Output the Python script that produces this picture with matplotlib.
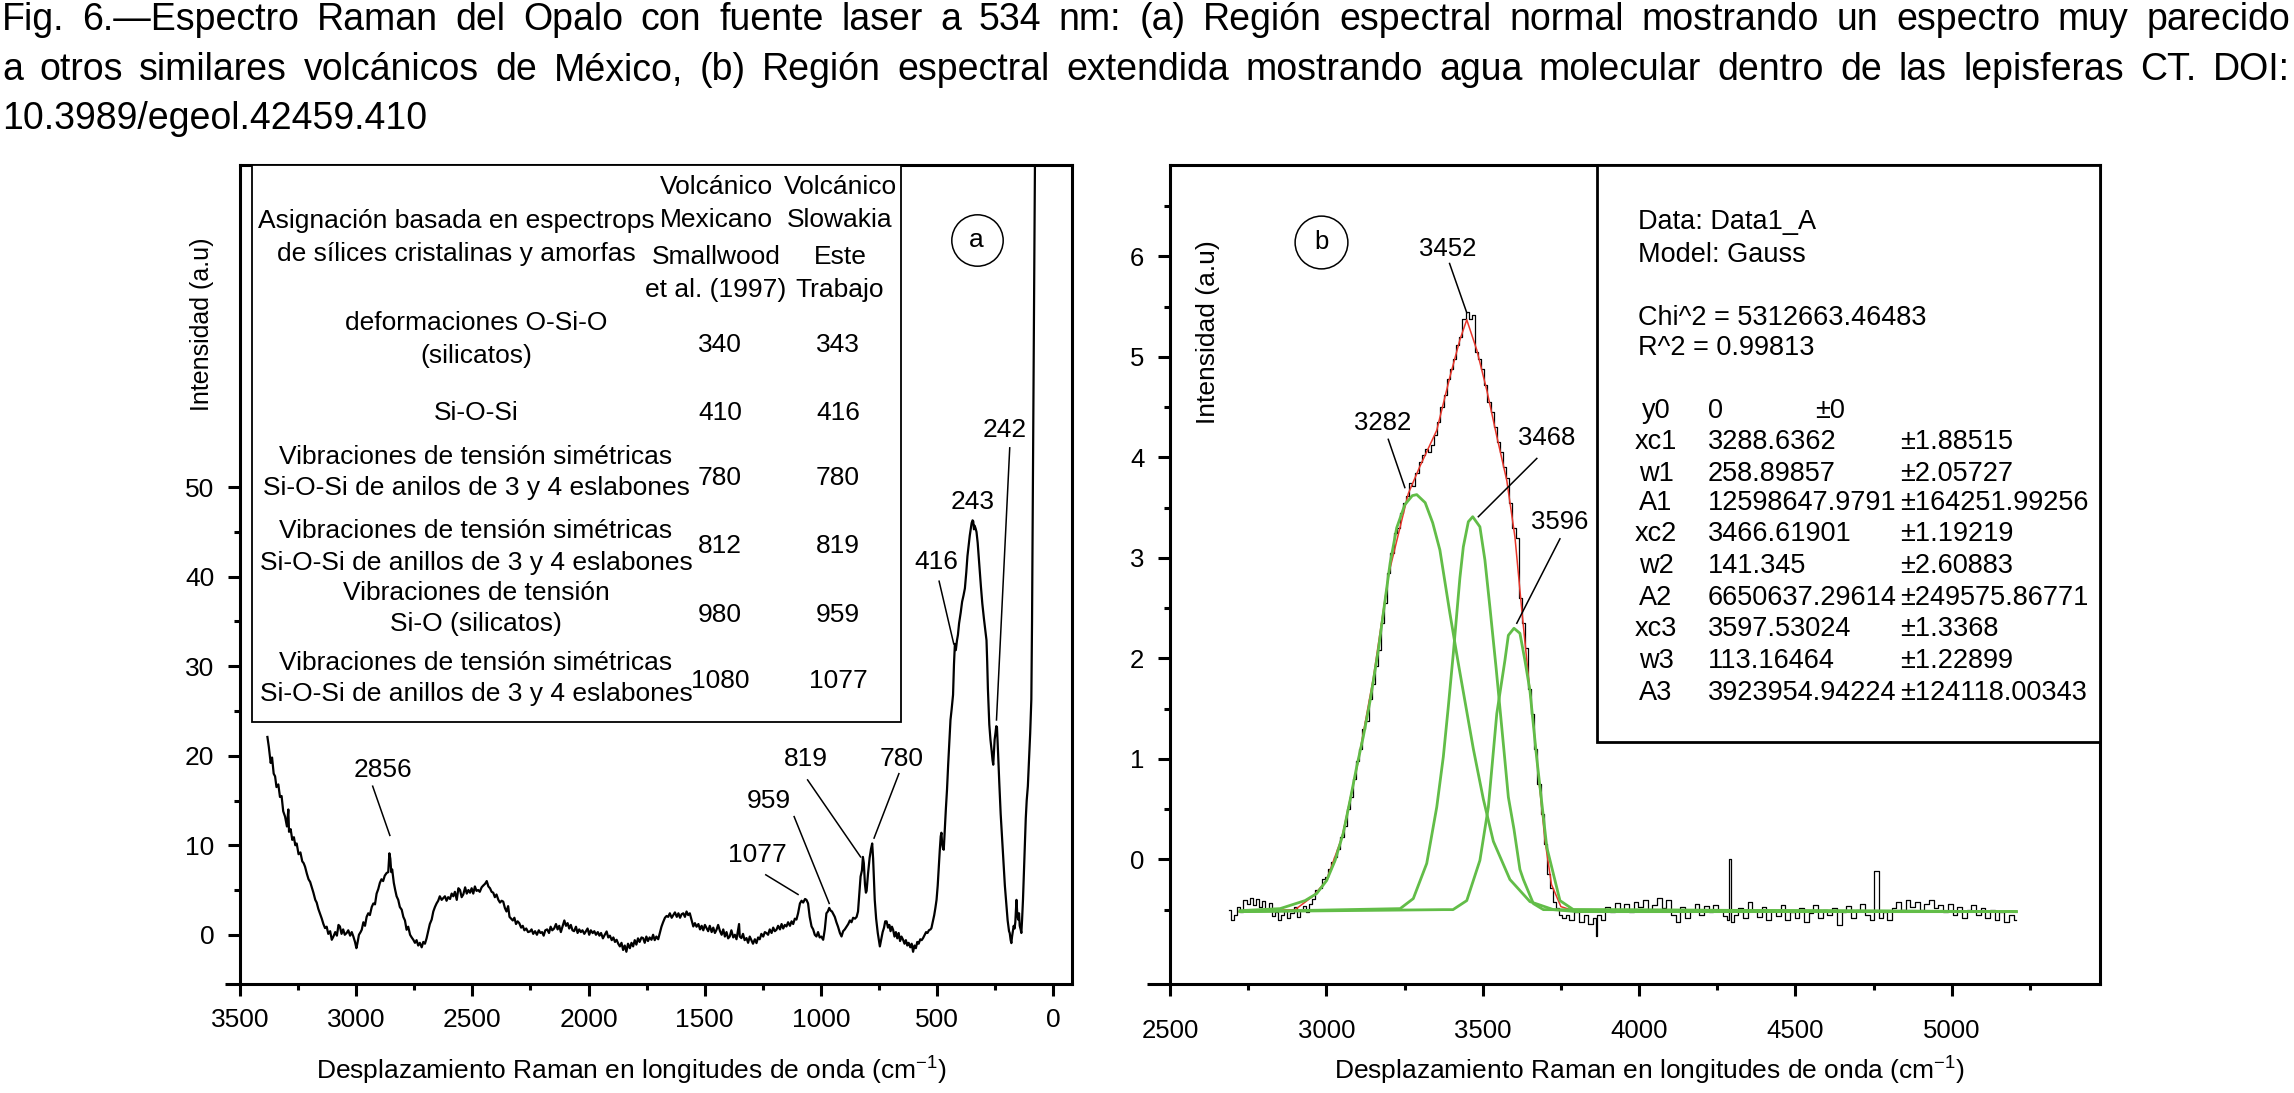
import matplotlib
matplotlib.use('Agg')
import matplotlib.pyplot as plt
from matplotlib.patches import Rectangle
from matplotlib.ticker import FixedLocator

plt.rcParams['font.family'] = ['Liberation Sans', 'DejaVu Sans']
plt.rcParams['mathtext.fontset'] = 'custom'
plt.rcParams['mathtext.rm'] = 'Liberation Sans'
plt.rcParams['mathtext.it'] = 'Liberation Sans:italic'

# ---------------- data: panel (a), normal spectral region ----------------
raman_a_cm = [
    3382, 3376, 3368, 3362, 3355, 3349, 3343, 3335, 3328, 3321, 3314, 3306, 3298, 3292, 3289, 3282,
    3275, 3268, 3262, 3256, 3248, 3240, 3232, 3226, 3220, 3212, 3205, 3198, 3190, 3184, 3176, 3170,
    3163, 3156, 3148, 3141, 3134, 3127, 3120, 3112, 3105, 3098, 3090, 3083, 3076, 3070, 3063, 3056,
    3049, 3041, 3034, 3026, 3019, 3012, 3005, 2999, 2995, 2988, 2981, 2976, 2969, 2962, 2955, 2948,
    2941, 2933, 2926, 2919, 2912, 2905, 2898, 2891, 2884, 2877, 2869, 2862, 2857, 2853, 2849, 2845,
    2838, 2832, 2826, 2819, 2812, 2804, 2797, 2790, 2783, 2776, 2768, 2761, 2754, 2747, 2740, 2733,
    2726, 2718, 2711, 2704, 2697, 2690, 2683, 2675, 2668, 2661, 2654, 2647, 2640, 2632, 2625, 2618,
    2611, 2604, 2596, 2589, 2582, 2575, 2567, 2560, 2553, 2546, 2539, 2531, 2524, 2517, 2510, 2503,
    2496, 2489, 2482, 2475, 2468, 2460, 2453, 2445, 2438, 2431, 2424, 2417, 2410, 2403, 2396, 2388,
    2381, 2374, 2367, 2360, 2353, 2346, 2340, 2333, 2326, 2319, 2312, 2305, 2298, 2290, 2283, 2276,
    2268, 2260, 2252, 2245, 2238, 2230, 2222, 2214, 2207, 2200, 2193, 2186, 2178, 2170, 2163, 2156,
    2148, 2140, 2133, 2126, 2119, 2112, 2104, 2097, 2090, 2083, 2076, 2069, 2062, 2054, 2047, 2040,
    2033, 2026, 2018, 2011, 2004, 1997, 1990, 1982, 1975, 1968, 1960, 1953, 1946, 1938, 1930, 1922,
    1915, 1908, 1900, 1893, 1886, 1879, 1872, 1865, 1858, 1851, 1844, 1837, 1830, 1822, 1815, 1808,
    1801, 1794, 1787, 1780, 1772, 1765, 1758, 1751, 1744, 1737, 1729, 1722, 1715, 1708, 1700, 1693,
    1686, 1679, 1671, 1664, 1657, 1650, 1642, 1635, 1628, 1620, 1613, 1606, 1599, 1592, 1585, 1578,
    1571, 1564, 1557, 1549, 1542, 1535, 1527, 1520, 1513, 1506, 1499, 1492, 1485, 1478, 1470, 1463,
    1456, 1449, 1442, 1434, 1427, 1420, 1413, 1406, 1399, 1392, 1385, 1377, 1370, 1363, 1356, 1352,
    1349, 1342, 1335, 1328, 1320, 1313, 1306, 1299, 1292, 1284, 1277, 1270, 1263, 1256, 1248, 1241,
    1234, 1227, 1220, 1212, 1205, 1198, 1191, 1184, 1176, 1169, 1162, 1155, 1148, 1141, 1133, 1126,
    1119, 1112, 1105, 1098, 1090, 1083, 1076, 1068, 1062, 1055, 1048, 1040, 1033, 1026, 1019, 1012,
    1005, 998, 990, 983, 976, 970, 964, 958, 952, 946, 940, 933, 926, 918, 911, 904,
    897, 889, 882, 875, 868, 861, 853, 846, 840, 834, 829, 823, 819, 815, 810, 806,
    803, 797, 790, 784, 779, 775, 771, 768, 762, 755, 750, 746, 740, 734, 728, 723,
    717, 711, 705, 700, 694, 689, 683, 677, 671, 665, 659, 653, 646, 640, 634, 628,
    622, 615, 609, 603, 597, 591, 585, 579, 572, 566, 560, 553, 547, 541, 535, 528,
    524, 518, 512, 507, 502, 497, 492, 488, 484, 481, 478, 474, 471, 466, 462, 457,
    452, 447, 442, 437, 431, 427, 423, 419, 414, 410, 405, 398, 392, 386, 380, 374,
    369, 364, 359, 355, 351, 347, 344, 341, 338, 334, 330, 325, 320, 316, 311, 305,
    298, 292, 287, 284, 281, 275, 270, 265, 261, 258, 255, 252, 248, 245, 242, 240,
    237, 232, 226, 220, 214, 208, 202, 196, 190, 187, 183, 180, 177, 173, 170, 166,
    163, 160, 158, 155, 151, 147, 144, 140, 137, 134, 130, 126, 122, 118, 114, 109,
    104, 99, 94, 91, 88, 85, 82, 79, 76,
]
raman_a_int = [
    22.1, 21.0, 19.2, 19.8, 18.0, 17.7, 16.5, 16.8, 15.4, 15.5, 13.8, 13.2, 12.1, 14.0, 11.5, 11.8,
    10.6, 10.9, 10.0, 10.2, 9.0, 9.2, 8.2, 8.0, 7.6, 6.8, 6.2, 5.9, 5.2, 4.7, 3.9, 3.6,
    2.9, 2.4, 1.8, 1.2, 0.75, 0.9, 0.1, 0.4, -0.56, -0.2, 0.3, -0.1, 1.1, 0.93, 0.1, 0.6,
    0.0, 0.2, 0.5, -0.1, 0.3, -0.2, -0.8, -1.5, -1.0, 0.0, 0.3, 0.56, 1.4, 1.0, 2.0, 2.4,
    2.2, 3.1, 3.5, 3.4, 4.6, 5.1, 5.8, 6.2, 6.0, 6.6, 6.9, 7.0, 9.1, 8.5, 7.0, 7.3,
    5.8, 5.0, 4.3, 3.9, 3.1, 2.8, 2.0, 1.6, 0.56, 0.9, 0.0, -0.3, -0.56, -0.9, -0.6, -1.2,
    -0.9, -1.4, -0.8, -1.0, -0.4, 0.4, 1.2, 1.7, 2.6, 3.1, 3.5, 3.8, 4.3, 3.9, 4.1, 4.3,
    3.8, 4.2, 4.0, 4.6, 4.3, 4.8, 3.9, 5.2, 5.0, 4.2, 4.5, 5.3, 4.6, 5.0, 4.7, 5.2,
    4.6, 5.4, 4.9, 5.0, 4.8, 5.3, 5.5, 5.7, 6.0, 5.4, 5.2, 4.8, 4.7, 4.2, 4.5, 3.9,
    3.6, 3.8, 3.7, 3.0, 2.6, 3.2, 2.0, 1.8, 1.6, 1.9, 1.2, 1.5, 1.3, 0.8, 1.0, 0.5,
    0.7, 0.3, 0.37, 0.6, 0.1, 0.4, 0.0, 0.5, 0.2, 0.3, -0.1, 0.5, 0.6, 0.2, 0.9, 0.5,
    0.7, 1.2, 0.6, 1.0, 0.3, 0.9, 1.6, 1.0, 1.3, 0.7, 1.1, 0.5, 0.4, 0.9, 0.2, 0.6,
    0.3, 0.5, 0.1, 0.4, 0.7, 0.0, 0.5, 0.19, 0.4, 0.0, 0.3, -0.1, 0.2, -0.4, 0.0, 0.37,
    -0.3, -0.1, -0.6, -0.3, -0.8, -0.56, -1.0, -1.3, -0.9, -1.7, -1.2, -1.9, -1.0, -1.5, -0.9, -1.3,
    -0.6, -1.1, -0.4, -0.8, -0.3, -0.37, -0.9, -0.2, -0.7, -0.3, -0.56, 0.0, -0.6, -0.2, -0.5, 0.19,
    0.9, 1.4, 1.9, 2.1, 2.0, 2.4, 1.9, 2.2, 2.5, 2.0, 2.4, 1.9, 2.3, 2.4, 2.0, 2.6,
    2.2, 2.4, 1.7, 0.93, 1.3, 0.9, 1.2, 0.6, 1.0, 0.5, 1.1, 0.75, 0.4, 1.0, 0.3, 0.8,
    0.2, 0.56, 1.1, 0.4, 0.0, 0.6, -0.2, 0.3, -0.4, -0.19, 0.5, -0.3, 0.0, -0.5, 0.56, 1.2,
    -0.2, -0.37, 0.1, -0.6, -0.37, -0.9, -0.2, -0.6, -1.0, -0.5, -0.93, -0.3, -0.5, 0.1, -0.2, 0.3,
    0.19, 0.0, 0.6, 0.2, 0.8, 0.4, 0.56, 1.0, 0.6, 1.2, 0.7, 1.1, 0.93, 1.4, 1.0, 1.5,
    1.2, 1.8, 1.7, 2.4, 3.5, 3.8, 3.6, 4.0, 3.9, 3.5, 2.0, 0.93, 0.6, 0.0, -0.19, 0.3,
    -0.3, -0.2, -0.56, 0.6, 2.4, 2.6, 3.0, 2.7, 2.6, 2.3, 2.0, 1.4, 0.9, 0.2, -0.19, 0.4,
    0.6, 0.93, 1.2, 1.6, 1.4, 1.9, 1.8, 2.0, 2.6, 4.8, 6.5, 7.2, 8.7, 8.0, 5.6, 4.7,
    4.9, 6.8, 8.6, 9.6, 10.2, 8.5, 6.0, 3.9, 1.8, 0.2, -0.6, -1.3, -0.5, 0.3, 0.8, 1.5,
    1.5, 0.8, 1.1, 0.4, 0.9, 0.56, -0.2, 0.3, -0.4, 0.2, -0.7, -0.2, -0.56, -1.0, -0.6, -1.2,
    -0.9, -1.4, -1.0, -1.9, -1.2, -1.5, -0.8, -1.0, -0.5, -0.6, -0.37, 0.0, 0.3, 0.2, 0.5, 0.6,
    0.75, 1.5, 2.2, 3.0, 3.9, 5.5, 7.8, 9.5, 11.0, 11.4, 10.2, 9.6, 9.5, 12.0, 14.0, 16.2,
    19.0, 21.5, 24.0, 25.2, 26.8, 30.2, 32.5, 31.8, 32.9, 33.5, 34.8, 36.0, 37.2, 37.9, 38.7, 40.5,
    42.3, 43.5, 44.6, 45.3, 46.0, 46.3, 46.2, 45.3, 45.7, 45.4, 45.0, 43.8, 42.0, 40.7, 38.9, 37.0,
    35.3, 34.0, 32.9, 30.5, 27.5, 23.5, 21.8, 20.6, 19.5, 19.0, 20.5, 21.8, 22.6, 23.3, 23.2, 22.1,
    20.2, 17.0, 13.5, 10.8, 8.2, 5.5, 3.5, 1.6, 0.4, 0.19, -0.6, -0.93, -0.2, 0.5, 1.0, 0.7,
    1.4, 2.8, 3.9, 2.5, 1.7, 2.4, 1.0, 0.6, 0.2, 1.6, 3.9, 7.0, 10.2, 13.0, 15.0, 16.6,
    19.5, 22.5, 26.3, 35.0, 48.0, 60.0, 72.0, 84.0, 96.0,
]

# peak labels of panel (a): text position and leader line (start, end) in data units
labels_a = ['2856', '1077', '959', '819', '780', '416', '243', '242']
labels_a_xy = [(2886, 18.4), (1274, 8.9), (1222, 14.9), (1066, 19.6), (653, 19.6),
               (502, 41.7), (345, 48.3), (208, 56.4)]
leaders_a = [((2929, 16.6), (2855, 11.1)), ((1237, 6.7), (1098, 4.5)),
             ((1115, 13.2), (964, 3.5)), ((1057, 17.3), (829, 8.7)),
             ((664, 18.0), (771, 10.8)), ((491, 39.5), (428, 32.5)),
             None, ((187, 54.4), (244, 24.0))]

# assignment table of panel (a)
table_head_left = ['Asignación basada en espectrops', 'de sílices cristalinas y amorfas']
table_head_mex = ['Volcánico', 'Mexicano', 'Smallwood', 'et al. (1997)']
table_head_slo = ['Volcánico', 'Slowakia', 'Este', 'Trabajo']
table_rows = [
    ['deformaciones O-Si-O', '(silicatos)'],
    ['Si-O-Si'],
    ['Vibraciones de tensión simétricas', 'Si-O-Si de anilos de 3 y 4 eslabones'],
    ['Vibraciones de tensión simétricas', 'Si-O-Si de anillos de 3 y 4 eslabones'],
    ['Vibraciones de tensión', 'Si-O (silicatos)'],
    ['Vibraciones de tensión simétricas', 'Si-O-Si de anillos de 3 y 4 eslabones'],
]
table_mex = ['340', '410', '780', '812', '980', '1080']
table_slo = ['343', '416', '780', '819', '959', '1077']

# ---------------- data: panel (b), extended spectral region ----------------
raman_b_cm = [
    2690, 2700, 2710, 2720, 2730, 2740, 2750, 2760, 2770, 2780, 2790, 2800, 2810, 2820, 2830, 2840,
    2850, 2860, 2870, 2880, 2890, 2900, 2910, 2920, 2930, 2940, 2950, 2960,
    2970, 2980, 2990, 3000, 3010, 3020, 3030, 3040, 3050, 3060, 3070, 3080, 3090, 3100, 3110, 3120,
    3130, 3140, 3150, 3160, 3170, 3180, 3190, 3200, 3210, 3220, 3230, 3240, 3250,
    3260, 3270, 3280, 3290, 3300, 3310, 3320, 3330, 3340, 3350, 3360, 3370, 3380, 3390, 3400, 3410,
    3420, 3430, 3440, 3450, 3460, 3470, 3480, 3490, 3500, 3510, 3520, 3530, 3540, 3550, 3560, 3570,
    3580, 3590, 3600, 3610, 3620, 3630, 3640, 3650, 3660, 3670, 3680, 3690, 3700, 3710, 3720, 3730,
    3740, 3750, 3760,
    3770, 3785, 3800, 3815, 3830, 3845, 3858, 3864, 3870, 3885, 3900, 3915, 3930, 3945, 3960, 3975,
    3990, 4005, 4020, 4035, 4050, 4065, 4080, 4095, 4110, 4125, 4140, 4155, 4170, 4185, 4200, 4215,
    4230, 4245, 4260, 4275, 4286, 4291, 4296, 4310, 4325, 4340, 4355, 4370, 4385, 4400, 4415, 4430,
    4445, 4460, 4475, 4490, 4505, 4520, 4535, 4550, 4565, 4580, 4595, 4610, 4625, 4640, 4655, 4670,
    4685, 4700, 4715, 4730, 4745, 4757, 4765, 4772, 4785, 4800, 4815, 4830, 4845, 4860, 4875, 4890,
    4905, 4920, 4935, 4950, 4965, 4980, 4995, 5010, 5025, 5040, 5055, 5070, 5085, 5100, 5115, 5130,
    5145, 5160, 5175, 5190, 5206,
]
raman_b_int = [
    -0.50, -0.60, -0.55, -0.47, -0.52, -0.40, -0.44, -0.38, -0.45, -0.39, -0.47, -0.41, -0.50, -0.43, -0.56, -0.52,
    -0.60, -0.55, -0.50, -0.58, -0.53, -0.47, -0.57, -0.50, -0.46, -0.52, -0.44, -0.39,
    -0.30, -0.28, -0.20, -0.18, -0.10, -0.03, 0.02, 0.10, 0.22, 0.33, 0.50, 0.62, 0.80, 0.98, 1.10, 1.30,
    1.38, 1.60, 1.75, 1.92, 2.08, 2.35, 2.55, 2.85, 3.05, 3.25, 3.30, 3.45, 3.55,
    3.62, 3.75, 3.72, 3.85, 3.95, 4.02, 4.08, 4.05, 4.12, 4.22, 4.35, 4.50, 4.62, 4.78, 4.88, 4.98,
    5.12, 5.20, 5.38, 5.45, 5.38, 5.42, 5.05, 4.98, 4.88, 4.72, 4.55, 4.45, 4.30, 4.15, 4.05, 3.90,
    3.80, 3.55, 3.30, 3.20, 2.60, 2.35, 2.10, 1.70, 1.45, 1.10, 0.75, 0.45, 0.15, -0.15, -0.28, -0.42,
    -0.48, -0.55, -0.58,
    -0.55, -0.60, -0.52, -0.62, -0.55, -0.64, -0.58, -0.76, -0.55, -0.60, -0.47, -0.52, -0.43, -0.50, -0.44, -0.52,
    -0.42, -0.47, -0.40, -0.50, -0.45, -0.38, -0.48, -0.40, -0.55, -0.62, -0.47, -0.58, -0.50, -0.44, -0.55, -0.46,
    -0.52, -0.45, -0.50, -0.56, -0.60, 0.00, -0.62, -0.55, -0.48, -0.58, -0.42, -0.50, -0.57, -0.47, -0.60, -0.50,
    -0.56, -0.45, -0.60, -0.52, -0.58, -0.48, -0.62, -0.53, -0.45, -0.58, -0.50, -0.55, -0.48, -0.65, -0.52, -0.46,
    -0.58, -0.50, -0.44, -0.55, -0.60, -0.12, -0.12, -0.58, -0.52, -0.60, -0.48, -0.42, -0.50, -0.40, -0.47, -0.42,
    -0.50, -0.44, -0.40, -0.48, -0.45, -0.52, -0.44, -0.55, -0.47, -0.58, -0.50, -0.45, -0.55, -0.48, -0.58, -0.50,
    -0.60, -0.52, -0.62, -0.55, -0.60,
]

# cumulative Gauss fit (red) and the three components (green)
fit_cm = [2720, 2900, 2960, 3000, 3050, 3100, 3150, 3200, 3262, 3299, 3353, 3395, 3427, 3449,
          3481, 3513, 3545, 3577, 3603, 3625, 3641, 3667, 3699, 3720, 3750, 3800, 5206]
fit_int = [-0.52, -0.50, -0.36, -0.21, 0.22, 0.95, 1.80, 2.85, 3.64, 3.91, 4.27, 4.80, 5.17, 5.37,
           5.07, 4.67, 4.21, 3.77, 3.21, 2.48, 1.98, 1.19, 0.19, -0.25, -0.47, -0.52, -0.52]

peak1_cm = [2724, 2852, 2932, 2969, 3001, 3028, 3054, 3076, 3097, 3118, 3140, 3166, 3204, 3225,
            3251, 3275, 3289, 3316, 3340, 3363, 3395, 3422, 3470, 3502, 3534, 3587, 3651, 3726,
            3800, 5206]
peak1_int = [-0.51, -0.49, -0.41, -0.34, -0.21, -0.01, 0.26, 0.59, 0.92, 1.22, 1.58, 2.08, 2.95, 3.30,
             3.53, 3.62, 3.63, 3.55, 3.35, 3.08, 2.45, 1.95, 1.10, 0.60, 0.18, -0.20, -0.42, -0.50,
             -0.52, -0.52]
peak2_cm = [2724, 3236, 3278, 3321, 3353, 3374, 3390, 3406, 3427, 3438, 3454, 3468, 3491, 3507,
            3523, 3543, 3569, 3582, 3600, 3619, 3630, 3662, 3694, 5206]
peak2_int = [-0.52, -0.49, -0.39, -0.04, 0.52, 1.02, 1.52, 2.05, 2.80, 3.11, 3.36, 3.41, 3.31, 2.98,
             2.51, 1.90, 1.05, 0.62, 0.30, -0.10, -0.20, -0.44, -0.50, -0.52]
peak3_cm = [2724, 3374, 3405, 3449, 3491, 3518, 3545, 3571, 3582, 3600, 3619, 3635, 3651, 3673,
            3705, 3747, 3790, 5206]
peak3_int = [-0.52, -0.50, -0.50, -0.41, -0.01, 0.52, 1.45, 1.98, 2.23, 2.30, 2.25, 1.98, 1.68, 1.00,
             0.12, -0.41, -0.50, -0.52]

labels_b = ['3452', '3282', '3468', '3596']
labels_b_xy = [(3388, 6.07), (3180, 4.34), (3704, 4.19), (3747, 3.36)]
leaders_b = [((3394, 5.93), (3449, 5.44)), ((3198, 4.18), (3251, 3.70)),
             ((3673, 3.99), (3486, 3.41)), ((3747, 3.19), (3609, 2.35))]

fit_head = ['Data: Data1_A', 'Model: Gauss', 'Chi^2 = 5312663.46483', 'R^2 = 0.99813']
fit_names = ['y0', 'xc1', 'w1', 'A1', 'xc2', 'w2', 'A2', 'xc3', 'w3', 'A3']
fit_values = ['0', '3288.6362', '258.89857', '12598647.9791', '3466.61901', '141.345',
              '6650637.29614', '3597.53024', '113.16464', '3923954.94224']
fit_errors = ['±0', '±1.88515', '±2.05727', '±164251.99256', '±1.19219', '±2.60883',
              '±249575.86771', '±1.3368', '±1.22899', '±124118.00343']

caption = [
    'Fig. 6.—Espectro Raman del Opalo con fuente laser a 534 nm: (a) Región espectral normal mostrando un espectro muy parecido',
    'a otros similares volcánicos de México, (b) Región espectral extendida mostrando agua molecular dentro de las lepisferas CT. DOI:',
    '10.3989/egeol.42459.410',
]
xlabel = r'Desplazamiento Raman en longitudes de onda (cm$^{-1}$)'
ylabel = 'Intensidad (a.u)'

GREEN = '#62bd48'
RED = '#e8372c'

# ---------------- figure ----------------
W, H = 2294, 1093
fig = plt.figure(figsize=(W / 100, H / 100), dpi=100)


def fx(x):
    return x / W


def fy(y):
    return 1 - y / H


def ptext(x, y, s, size, ha='center', va='center'):
    return fig.text(fx(x), fy(y), s, fontsize=size, ha=ha, va=va)


axa = fig.add_axes([fx(240), fy(984), fx(1072) - fx(240), fy(165) - fy(984)])
axb = fig.add_axes([fx(1170), fy(984), fx(2100) - fx(1170), fy(165) - fy(984)])


def style(ax, size, xpad, ypad, ext):
    for s in ax.spines.values():
        s.set_linewidth(2.2)
    ax.tick_params(which='both', direction='out', width=2.2, labelsize=size)
    ax.tick_params(which='major', length=8.5)
    ax.tick_params(which='minor', length=4.5)
    ax.tick_params(axis='x', pad=xpad)
    ax.tick_params(axis='y', pad=ypad)
    # the x axis line runs a little past the y axis, as in the original
    ax.plot([-ext, 0], [0, 0], transform=ax.transAxes, clip_on=False, color='k',
            lw=2.2, solid_capstyle='butt')


# panel (a)
axa.plot(raman_a_cm, raman_a_int, color='k', lw=1.6)
axa.set_xlim(3500, -81)
axa.set_ylim(-5.5, 86)
axa.xaxis.set_major_locator(FixedLocator([3500, 3000, 2500, 2000, 1500, 1000, 500, 0]))
axa.xaxis.set_minor_locator(FixedLocator([3250, 2750, 2250, 1750, 1250, 750, 250]))
axa.yaxis.set_major_locator(FixedLocator([0, 10, 20, 30, 40, 50]))
axa.yaxis.set_minor_locator(FixedLocator([5, 15, 25, 35, 45]))
style(axa, 19, 9, 10, 0.018)

for lab, xy, ld in zip(labels_a, labels_a_xy, leaders_a):
    axa.text(xy[0], xy[1], lab, fontsize=19, ha='center', va='center')
    if ld is not None:
        axa.plot([ld[0][0], ld[1][0]], [ld[0][1], ld[1][1]], color='k', lw=1.1)
axa.plot([330], [77.6], marker='o', ms=37, mfc='none', mec='k', mew=1.1)
axa.text(330, 77.6, 'a', fontsize=19, ha='center', va='center')

axa.set_xlabel(xlabel, fontsize=19)
axa.xaxis.set_label_coords(0.47, -0.087)
axa.set_ylabel(ylabel, fontsize=18)
axa.yaxis.set_label_coords(-0.031, 0.806)

# table of assignments
fig.add_artist(Rectangle((fx(252), fy(722)), fx(901) - fx(252), fy(165) - fy(722),
                         transform=fig.transFigure, fc='white', ec='k', lw=1.3))
TS = 19
for s, y in zip(table_head_left, [221, 254]):
    ptext(456, y, s, TS)
for s, y in zip(table_head_mex, [187, 220, 257, 290]):
    ptext(716, y, s, TS)
for s, y in zip(table_head_slo, [187, 220, 257, 290]):
    ptext(840, y, s, TS)
row_y = [(323, 356), (413,), (457, 488), (531, 563), (593, 624), (663, 694)]
num_y = [345, 413, 478, 546, 615, 681]
for lines, ys, m, s, ny in zip(table_rows, row_y, table_mex, table_slo, num_y):
    for t, y in zip(lines, ys):
        ptext(476, y, t, TS)
    ptext(720, ny, m, TS)
    ptext(838, ny, s, TS)

# panel (b)
axb.plot(raman_b_cm, raman_b_int, color='k', lw=0.9, drawstyle='steps-mid')
axb.plot(fit_cm, fit_int, color=RED, lw=1.1)
for px_, py_ in [(peak1_cm, peak1_int), (peak2_cm, peak2_int), (peak3_cm, peak3_int)]:
    axb.plot(px_, py_, color=GREEN, lw=2.0)
axb.set_xlim(2500, 5474)
axb.set_ylim(-1.24, 6.91)
axb.xaxis.set_major_locator(FixedLocator([2500, 3000, 3500, 4000, 4500, 5000]))
axb.xaxis.set_minor_locator(FixedLocator([2750, 3250, 3750, 4250, 4750, 5250]))
axb.yaxis.set_major_locator(FixedLocator([0, 1, 2, 3, 4, 5, 6]))
axb.yaxis.set_minor_locator(FixedLocator([-0.5, 0.5, 1.5, 2.5, 3.5, 4.5, 5.5, 6.5]))
style(axb, 18.5, 17, 10, 0.025)

for lab, xy, ld in zip(labels_b, labels_b_xy, leaders_b):
    axb.text(xy[0], xy[1], lab, fontsize=18.5, ha='center', va='center')
    axb.plot([ld[0][0], ld[1][0]], [ld[0][1], ld[1][1]], color='k', lw=1.1)
axb.plot([2983], [6.14], marker='o', ms=38, mfc='none', mec='k', mew=1.1)
axb.text(2983, 6.14, 'b', fontsize=18.5, ha='center', va='center')

axb.set_xlabel(xlabel, fontsize=19)
axb.xaxis.set_label_coords(0.515, -0.087)
axb.set_ylabel(ylabel, fontsize=19)
axb.yaxis.set_label_coords(0.054, 0.796)

# fit report box
fig.add_artist(Rectangle((fx(1597), fy(742)), fx(2100) - fx(1597), fy(165) - fy(742),
                         transform=fig.transFigure, fc='white', ec='k', lw=2.0))
FS = 19.5
for s, y in zip(fit_head, [222, 255, 318, 348]):
    ptext(1638, y, s, FS, ha='left')
row_ys = [411, 442, 474, 503, 534, 566, 598, 629, 661, 693]
for name, val, err, y in zip(fit_names, fit_values, fit_errors, row_ys):
    ptext(1656, y, name, FS)
    ptext(1708, y, val, FS, ha='left')
    ptext(1815 if err == '±0' else 1900, y, err, FS, ha='left')

# caption, justified on the first two lines
cap_size = 27
cap_base = [30, 80.5, 129]
fig.canvas.draw()
renderer = fig.canvas.get_renderer()
for i, (line, yb) in enumerate(zip(caption, cap_base)):
    words = line.split(' ')
    txts = [fig.text(0, fy(yb), w, fontsize=cap_size, ha='left', va='baseline') for w in words]
    widths = [t.get_window_extent(renderer).width for t in txts]
    space = cap_size * 100 / 72 * 0.278
    if i < 2:
        space = (2290 - 2 - sum(widths)) / (len(words) - 1)
    x = 2
    for t, w in zip(txts, widths):
        t.set_x(fx(x))
        x += w + space

fig.savefig('out.png', dpi=100)
